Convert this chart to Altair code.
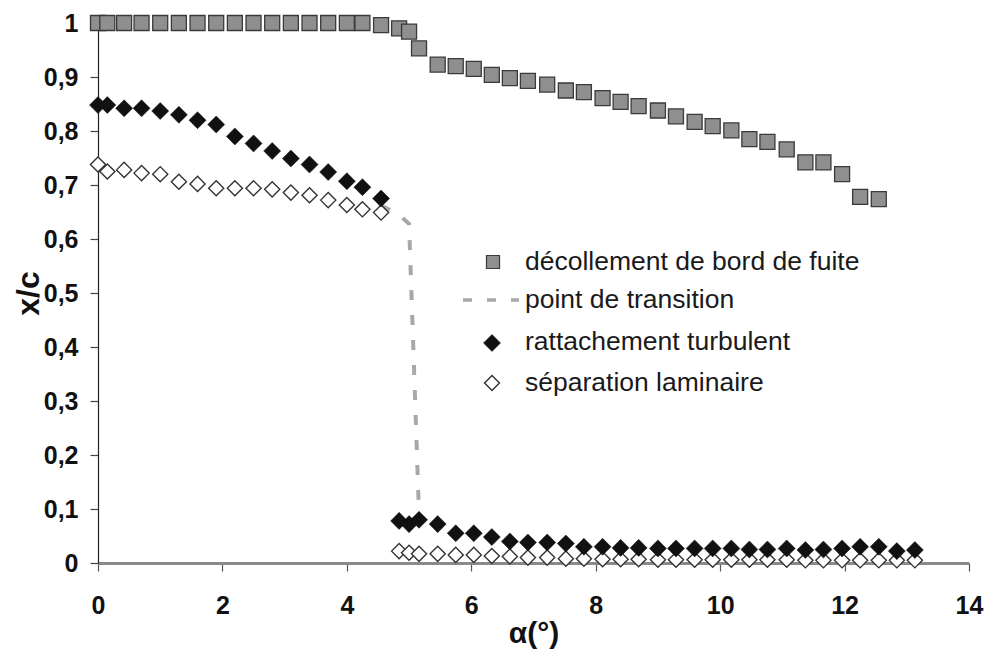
import altair as alt
import pandas as pd

# Angle of attack (degrees)
alpha = [0, 0.15, 0.42, 0.7, 1.0, 1.3, 1.6, 1.9, 2.2, 2.5, 2.8, 3.1, 3.4, 3.7, 4.0, 4.25, 4.55,
         4.84, 5.0, 5.16, 5.46, 5.75, 6.04, 6.33, 6.62, 6.91, 7.22, 7.52, 7.81, 8.11, 8.40, 8.69,
         9.0, 9.29, 9.59, 9.88, 10.18, 10.47, 10.76, 11.07, 11.37, 11.66, 11.96, 12.25, 12.55,
         12.84, 13.13]

# Trailing-edge separation x/c
decollement = [1.0, 1.0, 1.0, 1.0, 1.0, 1.0, 1.0, 1.0, 1.0, 1.0, 1.0, 1.0, 1.0, 1.0, 1.0, 1.0, 0.996,
               0.990, 0.984, 0.953, 0.923, 0.920, 0.915, 0.904, 0.898, 0.893, 0.886, 0.875, 0.872,
               0.861, 0.854, 0.846, 0.838, 0.827, 0.817, 0.809, 0.801, 0.785, 0.780, 0.766, 0.742,
               0.742, 0.720, 0.678, 0.674, None, None]

# Turbulent reattachment x/c
rattachement = [0.848, 0.848, 0.842, 0.842, 0.837, 0.830, 0.820, 0.812, 0.790, 0.777, 0.763, 0.749,
                0.738, 0.724, 0.707, 0.696, 0.675,
                0.078, 0.072, 0.080, 0.072, 0.055, 0.055, 0.048, 0.040, 0.038, 0.038, 0.036, 0.030,
                0.030, 0.028, 0.028, 0.027, 0.027, 0.027, 0.027, 0.027, 0.025, 0.025, 0.027, 0.024,
                0.025, 0.027, 0.030, 0.030, 0.022, 0.024]

# Laminar separation x/c
separation = [0.738, 0.725, 0.728, 0.722, 0.720, 0.706, 0.702, 0.694, 0.694, 0.694, 0.692, 0.686,
              0.681, 0.672, 0.663, 0.655, 0.649,
              0.022, 0.019, 0.017, 0.017, 0.015, 0.015, 0.013, 0.012, 0.010, 0.010, 0.008, 0.008,
              0.007, 0.007, 0.007, 0.006, 0.006, 0.006, 0.006, 0.006, 0.006, 0.006, 0.006, 0.005,
              0.005, 0.005, 0.005, 0.005, 0.005, 0.005]

# Transition point
transition_alpha = [4.55, 4.84, 5.0, 5.16]
transition_xc = [0.662, 0.645, 0.628, 0.09]

legend_labels = ["décollement de bord de fuite", "point de transition",
                 "rattachement turbulent", "séparation laminaire"]

FONT = "Liberation Sans"

df = pd.DataFrame({"alpha": alpha, "dec": decollement, "rat": rattachement, "sep": separation})
df_tr = pd.DataFrame({"alpha": transition_alpha, "xc": transition_xc})

x_axis = alt.Axis(values=list(range(0, 15, 2)), grid=False, domainColor="#8a8a8a", domainWidth=3,
                  tickColor="#555555", tickSize=8, tickWidth=1.2, labelFont=FONT, labelFontSize=25,
                  labelFontWeight="bold", labelColor="#111111", labelPadding=22, labelFlush=False,
                  format="d",
                  title="α(°)", titleFont=FONT, titleFontSize=30, titleFontWeight="bold",
                  titleColor="#111111", titleX=435.5, titleY=70, titleBaseline="middle")
y_axis = alt.Axis(values=[0, 0.1, 0.2, 0.3, 0.4, 0.5, 0.6, 0.7, 0.8, 0.9, 1.0], grid=False,
                  domainColor="#222222", domainWidth=1.2, tickColor="#444444", tickSize=8,
                  tickWidth=1.2, labelFont=FONT, labelFontSize=25, labelFontWeight="bold",
                  labelColor="#111111", labelPadding=12, labelFlush=False,
                  labelExpr="replace(format(datum.value, '~g'), '.', ',')",
                  title="x/c", titleFont=FONT, titleFontSize=32, titleFontWeight="bold",
                  titleColor="#111111", titleX=-70, titleY=270, titleBaseline="middle")

xs = alt.Scale(domain=[0, 14], nice=False, zero=False)
ys = alt.Scale(domain=[0, 1], nice=False)

base = alt.Chart(df)

line_tr = alt.Chart(df_tr).mark_line(color="#a8a8a8", strokeWidth=4, strokeDash=[10, 15]).encode(
    x=alt.X("alpha:Q", scale=xs, axis=x_axis),
    y=alt.Y("xc:Q", scale=ys, axis=y_axis),
)

squares = base.mark_point(shape="square", filled=True, size=225, fill="#8f8f8f", stroke="#3a3a3a",
                          strokeWidth=1.3, opacity=1).encode(
    x=alt.X("alpha:Q", scale=xs), y=alt.Y("dec:Q", scale=ys))

open_d = base.mark_point(shape="diamond", filled=True, size=230, fill="white", stroke="#333333",
                         strokeWidth=1.4, opacity=1).encode(
    x=alt.X("alpha:Q", scale=xs), y=alt.Y("sep:Q", scale=ys))

filled_d = base.mark_point(shape="diamond", filled=True, size=290, fill="#111111", stroke="#111111",
                           strokeWidth=0.5, opacity=1).encode(
    x=alt.X("alpha:Q", scale=xs), y=alt.Y("rat:Q", scale=ys))

# Legend drawn inside the plot area
one = alt.Chart(pd.DataFrame({"k": [0]}))
leg_sq = one.mark_point(shape="square", filled=True, size=170, fill="#8f8f8f", stroke="#3a3a3a",
                        strokeWidth=1.2, opacity=1).encode(x=alt.value(395), y=alt.value(239))
leg_line = one.mark_rule(color="#a8a8a8", strokeWidth=3.5, strokeDash=[9, 15]).encode(
    x=alt.value(365), x2=alt.value(421), y=alt.value(277))
leg_fd = one.mark_point(shape="diamond", filled=True, size=290, fill="#111111", stroke="#111111",
                        strokeWidth=0.5, opacity=1).encode(x=alt.value(394), y=alt.value(320))
leg_od = one.mark_point(shape="diamond", filled=True, size=220, fill="white", stroke="#333333",
                        strokeWidth=1.4, opacity=1).encode(x=alt.value(394), y=alt.value(360))

leg_rows = [239, 277, 319, 360]
leg_texts = [
    alt.Chart(pd.DataFrame({"label": [lab]})).mark_text(
        align="left", baseline="middle", font=FONT, fontSize=26.5, color="#1a1a1a"
    ).encode(x=alt.value(427), y=alt.value(yy), text="label:N")
    for lab, yy in zip(legend_labels, leg_rows)
]

chart = alt.layer(line_tr, squares, open_d, filled_d, leg_line, leg_sq, leg_fd, leg_od,
                  *leg_texts).properties(
    width=871, height=540,
    autosize=alt.AutoSizeParams(type="none"),
    padding={"left": 98, "top": 23, "right": 20, "bottom": 89},
    background="white",
).configure_view(stroke=None)

chart.save("out.html", embed_options={"renderer": "svg", "actions": False})
